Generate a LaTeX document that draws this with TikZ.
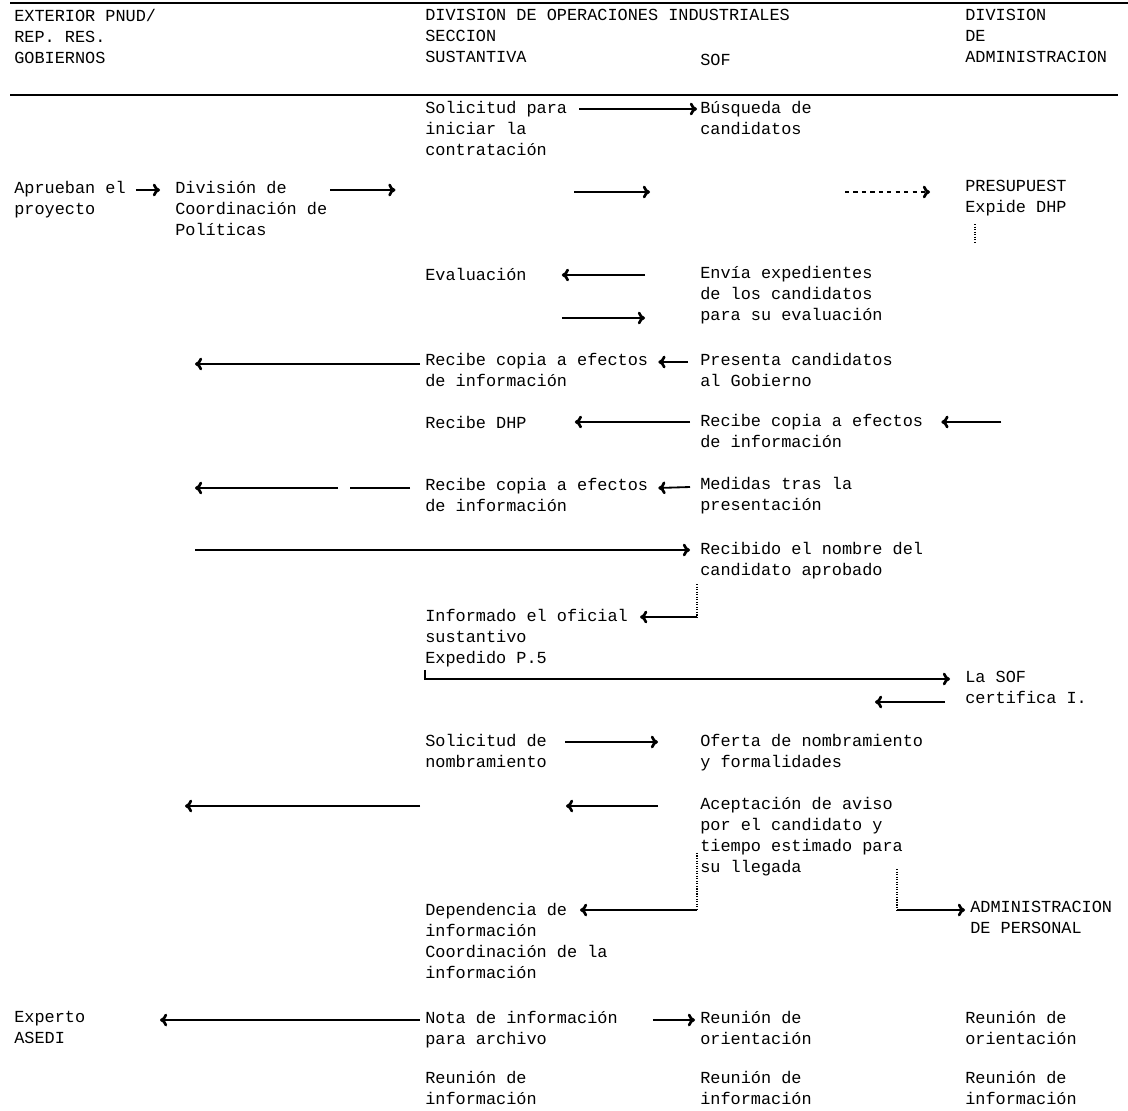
\documentclass[tikz,border=0pt]{standalone}
\usepackage{fontspec}
\setmonofont{Liberation Mono}
\usetikzlibrary{arrows.meta, calc, positioning}

\begin{document}
\begin{tikzpicture}[x=0.025cm, y=-0.025cm,
	texto/.style={anchor=north west, inner sep=0pt, align=left, yshift=-0.1cm,
		font=\ttfamily\fontsize{12}{14.9}\selectfont,
		execute at begin node=\strut},
	fl/.style={-{To[length=1.8mm,width=3.2mm,line width=0.6pt 1]}, line width=1.3pt},
	punt/.style={densely dotted, line width=0.8pt}]

	\useasboundingbox (0,0) rectangle (1128,1110);

	% cabecera
	\draw[line width=1pt] (10,3) -- (1128,3);
	\draw[line width=0.8pt] (10,95) -- (1118,95);
	\node[texto] (ext) at (14,5) {EXTERIOR PNUD/\\REP. RES.\\GOBIERNOS};
	\node[texto] (doi) at (425,5)
		{DIVISION DE OPERACIONES INDUSTRIALES\\SECCION\\SUSTANTIVA};
	\node[texto] (sof) at (700,47) {SOF};
	\node[texto] (dadm) at (965,5) {DIVISION\\DE\\ADMINISTRACION};

	% pasos
	\node[texto] (sol) at (425,97) {Solicitud para\\iniciar la\\contratación};
	\node[texto] (bus) at (700,97) {Búsqueda de\\candidatos};
	\node[texto] (apr) at (14,177) {Aprueban el\\proyecto};
	\node[texto] (dcp) at (175,177) {División de\\Coordinación de\\Políticas};
	\node[texto] (pre) at (965,176) {PRESUPUEST\\Expide DHP};
	\node[texto] (eva) at (425,262) {Evaluación};
	\node[texto] (env) at (700,262)
		{Envía expedientes\\de los candidatos\\para su evaluación};
	\node[texto] (rc1) at (425,349) {Recibe copia a efectos\\de información};
	\node[texto] (prs) at (700,349) {Presenta candidatos\\al Gobierno};
	\node[texto] (rdhp) at (425,410) {Recibe DHP};
	\node[texto] (rc2) at (700,410) {Recibe copia a efectos\\de información};
	\node[texto] (rc3) at (425,474) {Recibe copia a efectos\\de información};
	\node[texto] (med) at (700,473) {Medidas tras la\\presentación};
	\node[texto] (rno) at (700,538) {Recibido el nombre del\\candidato aprobado};
	\node[texto] (inf) at (425,605) {Informado el oficial\\sustantivo\\Expedido P.5};
	\node[texto] (csof) at (965,667) {La SOF\\certifica I.};
	\node[texto] (sdn) at (425,730) {Solicitud de\\nombramiento};
	\node[texto] (ofe) at (700,730) {Oferta de nombramiento\\y formalidades};
	\node[texto] (ace) at (700,793)
		{Aceptación de aviso\\por el candidato y\\tiempo estimado para\\su llegada};
	\node[texto] (dep) at (425,899)
		{Dependencia de\\información\\Coordinación de la\\información};
	\node[texto] (adp) at (970,897) {ADMINISTRACION\\DE PERSONAL};
	\node[texto] (exp) at (14,1007) {Experto\\ASEDI};
	\node[texto] (nota) at (425,1007) {Nota de información\\para archivo};
	\node[texto] (ro1) at (700,1007) {Reunión de\\orientación};
	\node[texto] (ro2) at (965,1007) {Reunión de\\orientación};
	\node[texto] (ri1) at (425,1067) {Reunión de\\información};
	\node[texto] (ri2) at (700,1067) {Reunión de\\información};
	\node[texto] (ri3) at (965,1067) {Reunión de\\información};

	% flechas
	\draw[fl] ($(sol.north east)+(12,8)$) -- ($(bus.north west)+(-3,8)$);
	\draw[fl] ($(apr.north east)+(10,9)$) -- ($(dcp.north west)+(-15,9)$);
	\draw[fl] ($(dcp.north east)+(3,9)$) -- ++(65,0);
	\draw[fl] ($(sol.east |- dcp.north)+(7,11)$) -- ($(bus.west |- dcp.north)+(-50,11)$);
	\draw[fl, dashed] ($(pre.north west)+(-120,12)$) -- ($(pre.north west)+(-35,12)$);
	\draw[punt] ($(pre.south west)+(10,5)$) -- ++(0,20);

	\draw[fl] ($(env.north west)+(-55,9)$) -- ($(eva.north east)+(35,9)$);
	\draw[fl] ($(eva.north east)+(35,52)$) -- ($(env.north west)+(-55,52)$);

	\draw[fl] ($(prs.north west)+(-12,9)$) -- ($(rc1.north east)+(10,9)$);
	\draw[fl] ($(rc1.north west)+(-5,11)$) -- ($(dcp.west |- rc1.north)+(20,11)$);

	\draw[fl] ($(rc2.north west)+(-10,8)$) -- ($(rdhp.north east)+(48,8)$);
	\draw[fl] ($(rc2.north east)+(78,8)$) -- ($(rc2.north east)+(18,8)$);

	\draw[fl] ($(med.north west)+(-10,10)$) -- ($(rc3.north east)+(10,10)$);
	\draw[line width=1.3pt] ($(rc3.north west)+(-15,10)$) -- ++(-60,0);
	\draw[fl] ($(rc3.north west)+(-87,10)$) -- ($(dcp.west |- rc3.north)+(20,10)$);

	\draw[fl] ($(dcp.west |- rno.north)+(20,8)$) -- ($(rno.north west)+(-10,8)$);
	\draw[punt] ($(rno.south west)+(-3,2)$) -- ($(rno.west |- inf.north)+(-3,8)$);
	\draw[fl] ($(rno.west |- inf.north)+(-3,8)$) -- ($(inf.north east)+(12,8)$);
	\draw[fl] (inf.south west) |- ($(csof.north west)+(-15,8)$);
	\draw[fl] ($(csof.north west)+(-20,31)$) -- ($(csof.north west)+(-90,31)$);

	\draw[fl] ($(sdn.north east)+(18,8)$) -- ($(ofe.north west)+(-42,8)$);
	\draw[fl] ($(ace.north west)+(-42,9)$) -- ($(ace.north west)+(-134,9)$);
	\draw[fl] ($(ace.north west)+(-280,9)$) -- ($(dcp.west |- ace.north)+(10,9)$);

	\draw[punt] ($(ace.south west)+(-3,-26)$) -- ($(ace.west |- dep.north)+(-3,7)$);
	\draw[fl] ($(ace.west |- dep.north)+(-3,7)$) -- ($(dep.north west)+(155,7)$);
	\draw[punt] ($(adp.north west)+(-73,-32)$) -- ($(adp.north west)+(-73,9)$);
	\draw[fl] ($(adp.north west)+(-73,9)$) -- ($(adp.north west)+(-5,9)$);

	\draw[fl] ($(nota.north west)+(-5,9)$) -- ($(exp.north west)+(146,9)$);
	\draw[fl] ($(nota.north east)+(35,9)$) -- ($(ro1.north west)+(-5,9)$);
\end{tikzpicture}
\end{document}
